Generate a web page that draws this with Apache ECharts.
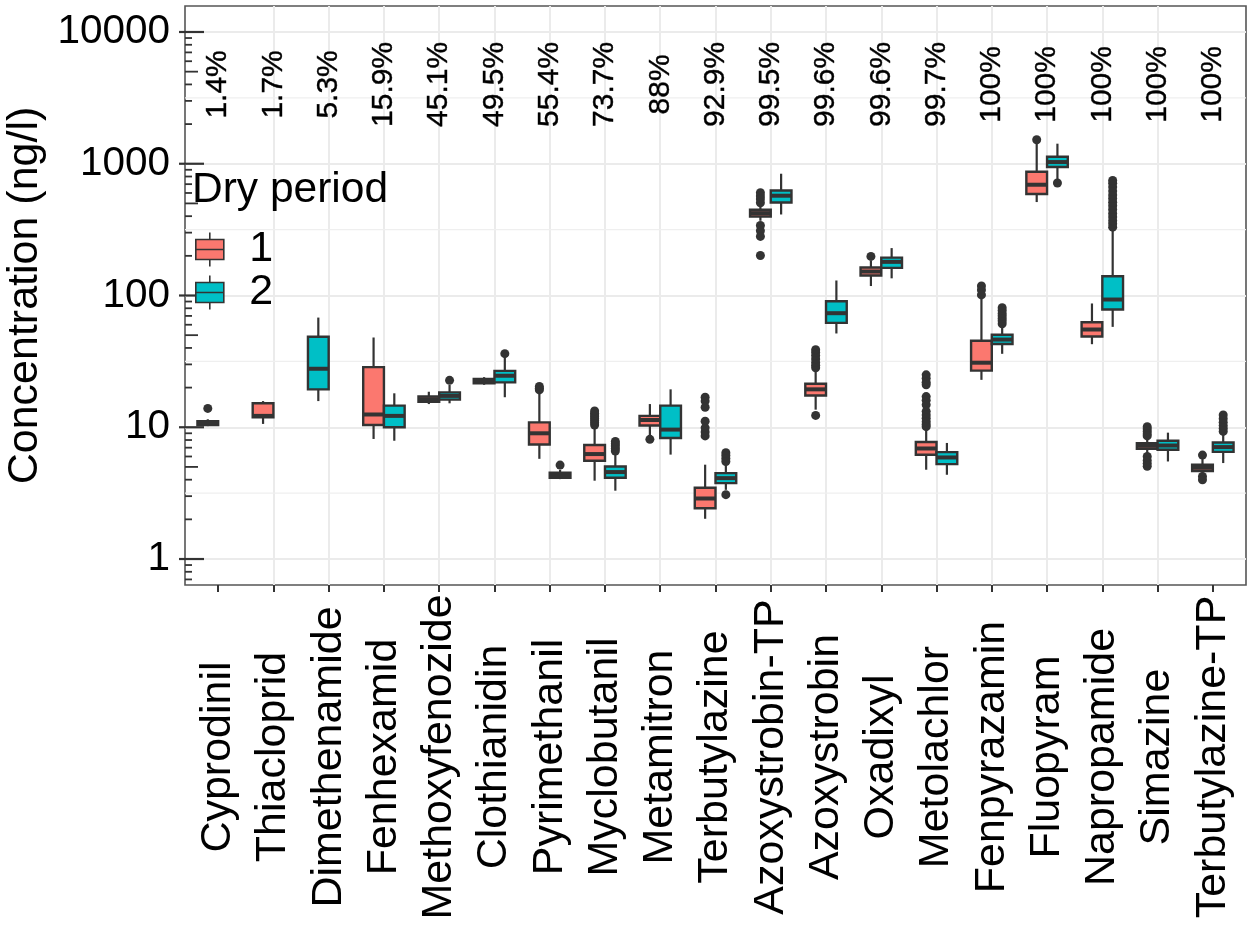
<!DOCTYPE html>
<html><head><meta charset="utf-8">
<style>html,body{margin:0;padding:0;background:#fff}#c{width:1248px;height:928px}</style>
<script src="https://cdn.jsdelivr.net/npm/echarts@6/dist/echarts.min.js"></script>
</head><body><div id="c"></div>
<script>
const categories = ['Cyprodinil','Thiacloprid','Dimethenamide','Fenhexamid','Methoxyfenozide','Clothianidin','Pyrimethanil','Myclobutanil','Metamitron','Terbutylazine','Azoxystrobin-TP','Azoxystrobin','Oxadixyl','Metolachlor','Fenpyrazamin','Fluopyram','Napropamide','Simazine','Terbutylazine-TP'];
const percentLabels = ['1.4%','1.7%','5.3%','15.9%','45.1%','49.5%','55.4%','73.7%','88%','92.9%','99.5%','99.6%','99.6%','99.7%','100%','100%','100%','100%','100%'];
const yTickValues = [1,10,100,1000,10000];
// [low whisker, q1, median, q3, high whisker]
const dry1Stats = [
 [10.2,10.4,10.8,11.1,11.5],[10.6,11.9,12.2,15.2,15.8],null,[8.15,10.4,12.5,28.6,48],[15,15.6,16.3,17.1,18.6],
 [21,21.6,22.5,23.3,24],[5.76,7.4,9,10.9,18.7],[3.93,5.57,6.26,7.33,10.1],[8.7,10.3,11.35,12.2,15],[2.02,2.43,2.88,3.47,5.2],
 [369,398,422,448,480],[13.6,17.4,19.4,21.4,26.5],[118,142,152,163,184],[4.76,6.18,6.9,7.72,9.9],[22.9,26.9,30.9,45.3,95],
 [512,590,693,870,1440],[42.7,48.8,55.2,62.7,87],[6.37,6.86,7.24,7.58,8.28],[4.49,4.65,4.93,5.19,5.87]];
const dry2Stats = [
 null,null,[15.8,19.4,27.8,48.6,68],[7.9,10,12.2,14.6,18.1],[15.2,16.2,17.3,18.4,21],
 [16.9,21.9,24.6,26.8,33.7],[4.04,4.14,4.34,4.51,4.76],[3.3,4.14,4.57,5.04,6.37],[6.2,8.28,9.6,14.6,19.4],[3.35,3.77,4.11,4.49,5.2],
 [412,508,572,627,840],[51.5,62,73.4,90.5,130],[135,162,180,194,229],[4.36,5.25,5.9,6.48,7.6],[36.1,42.8,46.3,50.3,58],
 [765,944,1030,1130,1420],[57.8,78.3,93.2,140,313],[5.5,6.75,7.27,7.9,9.1],[5.35,6.5,7.07,7.67,8.77]];
const dry1Outliers = [
 [13.9],[],[],[],[],[],[19.2,19.8,20.4],[10.4,10.8,11.2,11.6,12,12.4,12.8,13.3],[8.1],[16.9,15.8,14.2,11.1,9.9,9.2,8.6],
 [602,570,540,506,340,310,281,201],[28.3,29.5,31,33,35,37,38.8,12.3],[198],[25,23.5,22,21,17.1,16,14.8,13.2,12.4,11.7,11,10.5,10.1],[118,110,101],
 [1520],[],[10.1,9.7,9.3,8.9,8.6,6,5.6,5.3,5.05],[6.15,4.23,3.99]];
const dry2Outliers = [
 [],[],[],[],[22.7],[36.2],[5.16],[6.6,6.9,7.2,7.5,7.8],[],[6.4,6.1,5.8,5.5,3.08],
 [],[],[],[],[61,64,67,70,73,77,80.8],
 [714],[330,350,370,395,420,450,480,510,545,580,620,665,710,746],[],[9.3,9.8,10.3,10.9,11.6,12.4]];
const logMultipliers = [2,3,4,5,6,7,8,9];
const logDecades = [0.1,1,10,100,1000,10000];
const minorGridValues = [3.16,31.6,316,3160];

const RED = '#FB786F', TEAL = '#00BFC6', INK = '#333333';
const OFFSET = 0.1875, BOXW = 0.375;
const ymin = 0.635, ymax = 15750;

function slotX(i, other, side){ return i + 1 + (other[i] ? side : -1) * OFFSET; }
function boxRows(stats, other, side){
  const rows = [];
  stats.forEach((s,i)=>{ if(s) rows.push([slotX(i,other,side)].concat(s)); });
  return rows;
}
function outlierRows(outs, other, side){
  const rows = [];
  outs.forEach((list,i)=>list.forEach(v=>rows.push([slotX(i,other,side), v])));
  return rows;
}
function renderBox(fill){
  return function(params, api){
    const x = api.value(0), half = api.size([BOXW,0])[0]/2;
    const cx = api.coord([x, api.value(3)])[0];
    const py = k => api.coord([x, api.value(k)])[1];
    const low=py(1), q1=py(2), med=py(3), q3=py(4), high=py(5);
    const line = {stroke:INK, lineWidth:2.2, fill:null};
    return {type:'group', children:[
      {type:'line', shape:{x1:cx,y1:high,x2:cx,y2:q3}, style:line},
      {type:'line', shape:{x1:cx,y1:q1,x2:cx,y2:low}, style:line},
      {type:'rect', shape:{x:cx-half,y:q3,width:half*2,height:q1-q3}, style:{fill:fill,stroke:INK,lineWidth:2.4}},
      {type:'line', shape:{x1:cx-half,y1:med,x2:cx+half,y2:med}, style:{stroke:INK,lineWidth:4,fill:null}}
    ]};
  };
}
const logTicks = [];
logDecades.forEach(d=>{
  if(d>=ymin && d<=ymax) logTicks.push([d,19,6]);
  logMultipliers.forEach(m=>{ const v=d*m; if(v>=ymin && v<=ymax) logTicks.push([v, m===5?13:7, 0]); });
});
const KEY_ICON = 'path://M14 0V7M14 27V34M0 7H28V27H0ZM0 17H28';

const chart = echarts.init(document.getElementById('c'), null, {renderer:'canvas'});
chart.setOption({
  animation:false,
  backgroundColor:'#fff',
  textStyle:{fontFamily:'"Liberation Sans",Arial,sans-serif'},
  title:{text:'Dry period', left:187, top:164, textStyle:{fontFamily:'"Liberation Sans"',fontSize:42.5,fontWeight:'normal',color:'#000'}},
  legend:{
    data:[{name:'1',icon:KEY_ICON},{name:'2',icon:KEY_ICON}],
    orient:'vertical', left:190, top:223, itemWidth:29, itemHeight:34, itemGap:0, selectedMode:false,
    textStyle:{fontFamily:'"Liberation Sans"',fontSize:43,color:'#000',padding:[0,0,0,20]},
    itemStyle:{borderColor:INK,borderWidth:1.6}
  },
  grid:{left:185, top:6, width:1061, height:579, show:true, borderColor:'#555', borderWidth:1.6, backgroundColor:'#fff', outerBoundsMode:'none', containLabel:false},
  xAxis:{
    type:'value', min:0.4, max:19.6, 
    axisLine:{show:false},
    axisTick:{show:true, length:7, inside:false, lineStyle:{color:INK,width:2}, customValues:categories.map((c,i)=>i+1)},
    axisLabel:{show:true, customValues:categories.map((c,i)=>i+1), rotate:90, align:'center', verticalAlign:'middle', margin:172,
      fontSize:43, color:'#000', fontFamily:'"Liberation Sans"', padding:[4,0,0,0], formatter:v=>categories[Math.round(v)-1]||''},
    splitLine:{show:true, showMinLine:false, showMaxLine:false, lineStyle:{color:'#EBEBEB',width:2}}
  },
  yAxis:{
    type:'log', logBase:10, min:ymin, max:ymax,
    name:'Concentration (ng/l)', nameLocation:'middle', nameGap:136, nameRotate:90,
    nameTextStyle:{fontSize:43,color:'#000',fontFamily:'"Liberation Sans"'},
    axisLine:{show:false}, axisTick:{show:false},
    axisLabel:{show:true, margin:15, fontSize:40.5, color:'#000', fontFamily:'"Liberation Sans"',
      formatter:v=>{const r=Math.round(v); return yTickValues.includes(r)&&Math.abs(v-r)<1e-6?String(r):'';}},
    splitLine:{show:true, showMinLine:false, showMaxLine:false, lineStyle:{color:'#EBEBEB',width:2}}
  },
  series:[
    {type:'custom', name:'minor grid', silent:true, z:1, data:minorGridValues.map(v=>[v]), encode:{y:0},
      renderItem:(p,api)=>{const y=api.coord([1,api.value(0)])[1],c=p.coordSys;
        return {type:'line',shape:{x1:c.x,y1:y,x2:c.x+c.width,y2:y},style:{stroke:'#EFEFEF',lineWidth:1.2,fill:null}};}},
    {type:'custom', name:'log ticks', silent:true, z:3, clip:false, data:logTicks, encode:{y:0},
      renderItem:(p,api)=>{const y=api.coord([1,api.value(0)])[1],c=p.coordSys,len=api.value(1),out=api.value(2);
        return {type:'line',shape:{x1:c.x-out,y1:y,x2:c.x+len,y2:y},style:{stroke:INK,lineWidth:len>10&&out?2.2:1.8,fill:null}};}},
    {type:'custom', name:'1', z:4, itemStyle:{color:RED,borderColor:INK}, data:boxRows(dry1Stats,dry2Stats,-1), encode:{x:0,y:[1,2,3,4,5]}, renderItem:renderBox(RED)},
    {type:'custom', name:'2', z:4, itemStyle:{color:TEAL,borderColor:INK}, data:boxRows(dry2Stats,dry1Stats,1), encode:{x:0,y:[1,2,3,4,5]}, renderItem:renderBox(TEAL)},
    {type:'scatter', name:'1 outliers', z:5, symbol:'circle', symbolSize:9, itemStyle:{color:INK,opacity:1}, data:outlierRows(dry1Outliers,dry2Stats,-1)},
    {type:'scatter', name:'2 outliers', z:5, symbol:'circle', symbolSize:9, itemStyle:{color:INK,opacity:1}, data:outlierRows(dry2Outliers,dry1Stats,1)},
    {type:'scatter', name:'percent', z:6, symbolSize:1, itemStyle:{color:'rgba(0,0,0,0)'}, data:percentLabels.map((t,i)=>[i+1,4000]),
      label:{show:true, position:'inside', rotate:90, fontSize:30, color:'#000', opacity:1, textBorderColor:'#000', textBorderWidth:0.4, fontFamily:'"Liberation Sans"', align:'center', verticalAlign:'middle',
        formatter:p=>percentLabels[p.dataIndex]}}
  ]
});
</script></body></html>
